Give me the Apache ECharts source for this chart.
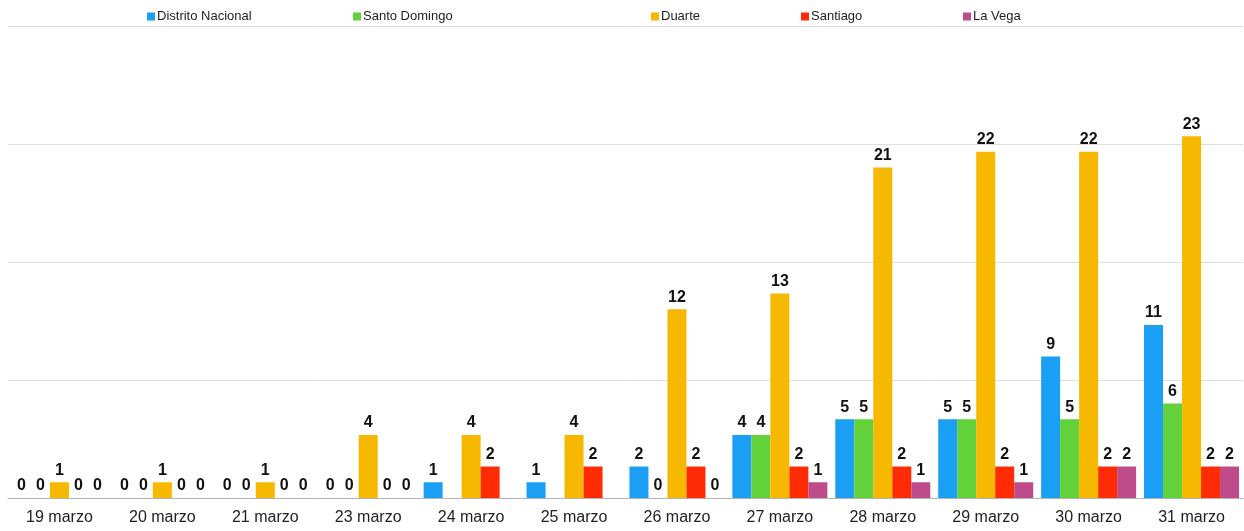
<!DOCTYPE html>
<html>
<head>
<meta charset="utf-8">
<script src="https://cdn.jsdelivr.net/npm/echarts@6/dist/echarts.min.js"></script>
<style>
  html, body { margin: 0; padding: 0; background: #fff; }
  #chart { width: 1244px; height: 531px; }
</style>
</head>
<body>
<div id="chart"></div>
<script>
// fechas
const dias = ['19 marzo', '20 marzo', '21 marzo', '23 marzo', '24 marzo', '25 marzo',
  '26 marzo', '27 marzo', '28 marzo', '29 marzo', '30 marzo', '31 marzo']

// casos por provincia (null = sin dato)
const distritoNacional = [0, 0, 0, 0, 1, 1, 2, 4, 5, 5, 9, 11]
const santoDomingo = [0, 0, 0, 0, null, null, 0, 4, 5, 5, 5, 6]
const duarte = [1, 1, 1, 4, 4, 4, 12, 13, 21, 22, 22, 23]
const santiago = [0, 0, 0, 0, 2, 2, 2, 2, 2, 2, 2, 2]
const laVega = [0, 0, 0, 0, null, null, 0, 1, 1, 1, 2, 2]

const nombres = ['Distrito Nacional', 'Santo Domingo', 'Duarte', 'Santiago', 'La Vega']
const colores = ['#1a9ff5', '#62d13a', '#f7b900', '#ff2b05', '#bf4c8a']
const legendLeft = [147, 353, 651, 801, 963]

let chart = echarts.init(document.getElementById('chart'))

let valores = [distritoNacional, santoDomingo, duarte, santiago, laVega]
let series = nombres.map((n, i) => ({
  name: n,
  type: 'bar',
  data: valores[i],
  barWidth: 19,
  barGap: '0%',
  itemStyle: { color: colores[i] },
  label: {
    show: true,
    position: 'top',
    distance: 4,
    fontFamily: 'Liberation Sans',
    fontWeight: 'bold',
    fontSize: 16,
    color: '#111'
  }
}))

let legends = nombres.map((n, i) => ({
  data: [n],
  left: legendLeft[i],
  top: 10,
  padding: 0,
  icon: 'rect',
  itemWidth: 8,
  itemHeight: 8,
  textStyle: { fontFamily: 'Liberation Sans', fontSize: 13, color: '#222', padding: [0, 0, 0, -3] }
}))

let option = {
  animation: false,
  color: colores,
  legend: legends,
  grid: { left: 8, right: 1, top: 26, bottom: 33 },
  xAxis: {
    type: 'category',
    data: dias,
    axisTick: { show: false },
    axisLine: { lineStyle: { color: '#b3b3b3' } },
    axisLabel: { fontFamily: 'Liberation Sans', fontSize: 16, color: '#222', margin: 12, interval: 0 }
  },
  yAxis: {
    type: 'value',
    min: 0,
    max: 30,
    interval: 7.5,
    axisLabel: { show: false },
    axisLine: { show: false },
    axisTick: { show: false },
    splitLine: { lineStyle: { color: '#dedede' } }
  },
  series: series
}
chart.setOption(option)
</script>
</body>
</html>
